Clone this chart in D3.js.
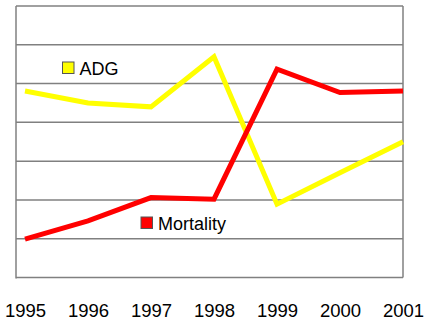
<!DOCTYPE html>
<html><head><meta charset="utf-8">
<script src="https://cdn.jsdelivr.net/npm/d3@7"></script>
<style>html,body{margin:0;padding:0;background:#fff;}svg{display:block;}</style>
</head><body>
<svg id="c" width="430" height="323"></svg>
<script>
const years = ["1995","1996","1997","1998","1999","2000","2001"];
const adg = [4.81, 4.5, 4.4, 5.69, 1.89, 2.7, 3.5];
const mortality = [0.99, 1.46, 2.06, 2.02, 5.37, 4.77, 4.81];
const gridValues = [1, 2, 3, 4, 5, 6, 7];
const seriesNames = ["ADG", "Mortality"];
const seriesColors = ["#FFFF00", "#FF0000"];

const svg = d3.select("#c");
const L = 16, R = 403, T = 6, B = 277.5;
const x = d3.scalePoint().domain(years).range([25, 403]);
const y = d3.scaleLinear().domain([0, 7]).range([B, T]);

// gridlines
svg.append("g").selectAll("line").data(gridValues).join("line")
  .attr("x1", L).attr("x2", R)
  .attr("y1", d => y(d)).attr("y2", d => y(d))
  .attr("stroke", "#808080").attr("stroke-width", 1.5);

// right border
svg.append("line").attr("x1", R).attr("x2", R).attr("y1", T).attr("y2", B)
  .attr("stroke", "#808080").attr("stroke-width", 1.5);
// left axis
svg.append("line").attr("x1", L).attr("x2", L).attr("y1", T).attr("y2", B + 1)
  .attr("stroke", "#808080").attr("stroke-width", 1.5);

// bottom axis
const xAxis = d3.axisBottom(x).tickSize(0).tickPadding(26);
const ax = svg.append("g").attr("transform", `translate(0,${B})`).call(xAxis);
ax.select(".domain").remove();
svg.append("line").attr("x1", L).attr("x2", R).attr("y1", B).attr("y2", B)
  .attr("stroke", "#808080").attr("stroke-width", 1.5);
ax.selectAll("text").attr("font-family", "Liberation Sans, Arial, sans-serif")
  .attr("font-size", 18.5).attr("fill", "#000");

const line = d3.line().x((d, i) => x(years[i])).y(d => y(d));
[adg, mortality].forEach((s, k) => {
  svg.append("path").datum(s).attr("d", line)
    .attr("fill", "none").attr("stroke", seriesColors[k])
    .attr("stroke-width", 5).attr("stroke-linejoin", "miter");
});

// legends
const legendPos = [[62.5, 62], [141, 217]];
seriesNames.forEach((n, k) => {
  const [lx, ly] = legendPos[k];
  svg.append("rect").attr("x", lx).attr("y", ly).attr("width", 11.5).attr("height", 11.5)
    .attr("fill", seriesColors[k]).attr("stroke", "#555").attr("stroke-width", 1);
  svg.append("text").attr("x", lx + 17).attr("y", ly + 13)
    .attr("font-family", "Liberation Sans, Arial, sans-serif").attr("font-size", 18)
    .attr("fill", "#000").text(n);
});
</script>
</body></html>
